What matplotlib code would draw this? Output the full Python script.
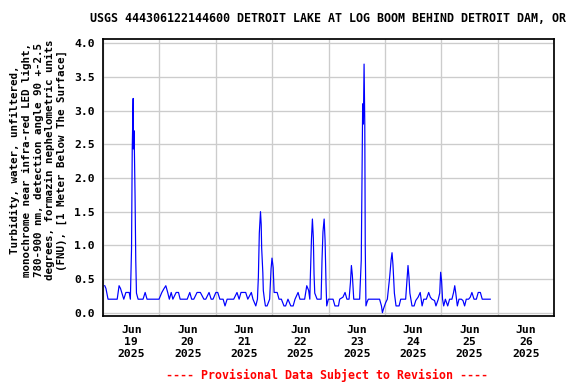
import matplotlib
matplotlib.use("Agg")
import matplotlib.pyplot as plt
import matplotlib.dates as mdates
import pandas as pd

# hours after 2025-06-19 00:00 and turbidity (FNU)
hours = [0.7, 1.2, 1.6, 2.1, 6.0, 6.8, 7.4, 8.0, 8.8, 9.7, 11.1, 11.6, 12.1, 12.4,
         12.8, 12.9, 13.2, 13.6, 13.9, 14.2, 14.9, 17.0, 17.9, 18.7, 23.8, 25.0,
         25.8, 26.7, 27.5, 28.2, 29.0, 29.7, 31.1, 32.1, 32.8, 35.8, 36.9, 37.7,
         38.6, 40.0, 41.4, 42.9, 43.7, 45.1, 46.0, 46.8, 48.0, 48.8, 49.7, 51.1,
         51.9, 52.8, 55.6, 57.0, 57.9, 58.7, 60.7, 61.6, 63.1, 63.8, 65.0, 65.7,
         66.1, 66.5, 67.0, 67.3, 67.5, 68.0, 68.2, 68.7, 69.1, 69.8, 70.9, 71.5,
         71.9, 72.4, 72.8, 74.1, 74.9, 75.9, 77.0, 77.7, 78.7, 79.9, 80.9, 81.7,
         83.0, 83.8, 85.8, 86.7, 87.5, 88.0, 88.2, 88.7, 89.1, 89.5, 89.8, 90.1,
         91.1, 92.8, 93.2, 93.6, 94.1, 94.5, 94.9, 95.2, 95.9, 97.9, 98.7, 100.2,
         100.7, 102.1, 103.0, 103.8, 104.7, 105.3, 105.7, 106.1, 106.7, 109.2,
         109.9, 110.2, 110.5, 110.8, 111.1, 111.4, 111.6, 111.9, 112.4, 112.9,
         117.7, 118.5, 118.9, 119.4, 120.3, 121.0, 122.0, 122.6, 123.0, 123.4,
         124.0, 124.7, 126.0, 126.7, 128.8, 129.4, 129.8, 130.2, 130.6, 131.5,
         132.4, 133.1, 134.1, 135.0, 135.8, 136.5, 137.6, 138.6, 139.3, 140.0,
         141.1, 141.7, 142.7, 143.3, 143.7, 144.1, 144.5, 145.0, 145.7, 146.7,
         147.5, 148.5, 149.2, 149.7, 150.1, 150.8, 151.5, 152.5, 153.2, 153.9,
         154.6, 155.6, 156.3, 157.0, 157.9, 158.9, 159.7, 160.6, 161.4, 164.8]
turbidity = [0.40, 0.36, 0.29, 0.20, 0.20, 0.40, 0.36, 0.29, 0.20, 0.30, 0.30, 0.20,
             0.94, 2.43, 3.18, 2.43, 2.70, 1.74, 0.78, 0.29, 0.20, 0.20, 0.30, 0.20,
             0.20, 0.30, 0.35, 0.40, 0.30, 0.20, 0.30, 0.20, 0.30, 0.30, 0.20, 0.20,
             0.30, 0.20, 0.20, 0.30, 0.30, 0.20, 0.20, 0.30, 0.20, 0.20, 0.30, 0.30,
             0.20, 0.20, 0.10, 0.20, 0.20, 0.30, 0.20, 0.30, 0.30, 0.20, 0.30, 0.20,
             0.10, 0.20, 0.53, 1.18, 1.50, 1.31, 0.96, 0.59, 0.33, 0.19, 0.10, 0.10,
             0.20, 0.65, 0.81, 0.67, 0.30, 0.30, 0.20, 0.20, 0.10, 0.10, 0.20, 0.10,
             0.10, 0.20, 0.30, 0.20, 0.20, 0.40, 0.33, 0.20, 0.50, 1.09, 1.39, 1.11,
             0.57, 0.29, 0.20, 0.20, 0.79, 1.20, 1.39, 1.07, 0.43, 0.10, 0.20, 0.20,
             0.10, 0.10, 0.20, 0.23, 0.30, 0.20, 0.20, 0.45, 0.70, 0.56, 0.20, 0.20,
             0.78, 1.95, 3.10, 2.80, 3.69, 2.79, 0.98, 0.10, 0.16, 0.20, 0.20, 0.10,
             0.00, 0.06, 0.15, 0.20, 0.53, 0.78, 0.89, 0.71, 0.29, 0.10, 0.10, 0.20,
             0.20, 0.51, 0.70, 0.53, 0.29, 0.10, 0.10, 0.18, 0.23, 0.30, 0.10, 0.20,
             0.20, 0.30, 0.23, 0.20, 0.18, 0.10, 0.20, 0.29, 0.60, 0.47, 0.20, 0.10,
             0.20, 0.10, 0.20, 0.20, 0.30, 0.40, 0.30, 0.10, 0.20, 0.20, 0.18, 0.10,
             0.20, 0.20, 0.23, 0.30, 0.20, 0.20, 0.30, 0.30, 0.20, 0.20]

times = pd.Timestamp("2025-06-19") + pd.to_timedelta(hours, unit="h")

title = "USGS 444306122144600 DETROIT LAKE AT LOG BOOM BEHIND DETROIT DAM, OR"
ylabel = ("Turbidity, water, unfiltered,\n"
          "monochrome near infra-red LED light,\n"
          "780-900 nm, detection angle 90 +-2.5\n"
          "degrees, formazin nephelometric units\n"
          "(FNU), [1 Meter Below The Surface]")
footer = "---- Provisional Data Subject to Revision ----"

plt.rcParams["font.family"] = "DejaVu Sans Mono"
plt.rcParams["font.weight"] = "bold"

fig = plt.figure(figsize=(6, 4), dpi=96)
ax = fig.add_axes([0.179, 0.177, 0.783, 0.721])

ax.plot(times, turbidity, color="#0000ff", lw=0.9)

ax.set_xlim(pd.Timestamp("2025-06-19"), pd.Timestamp("2025-06-27"))
ax.set_ylim(-0.05, 4.06)
ax.set_yticks([0, 0.5, 1, 1.5, 2, 2.5, 3, 3.5, 4])
ax.set_yticklabels(["%.1f" % v for v in [0, 0.5, 1, 1.5, 2, 2.5, 3, 3.5, 4]])

# labels at noon, grid at midnight
ax.xaxis.set_major_locator(mdates.HourLocator(byhour=12))
ax.xaxis.set_major_formatter(mdates.DateFormatter("%b\n%d\n%Y"))
ax.xaxis.set_minor_locator(mdates.DayLocator())
ax.grid(which="minor", axis="x", color="#cccccc", lw=1)
ax.grid(which="major", axis="y", color="#cccccc", lw=1)
ax.tick_params(which="both", length=0)
ax.tick_params(axis="y", pad=6, labelsize=8.5)
ax.tick_params(axis="x", pad=7, labelsize=8.5)
for s in ax.spines.values():
    s.set_linewidth(1.3)

fig.text(0.569, 0.953, title, ha="center", va="center", fontsize=8.7, fontweight="bold")
fig.text(0.067, 0.583, ylabel, ha="center", va="center", rotation=90,
         fontsize=8.2, fontweight="bold", multialignment="center", linespacing=1.22)
fig.text(0.568, 0.023, footer, ha="center", va="center", fontsize=8.7,
         fontweight="bold", color="#ff0000")

fig.savefig("out.png", dpi=96)
